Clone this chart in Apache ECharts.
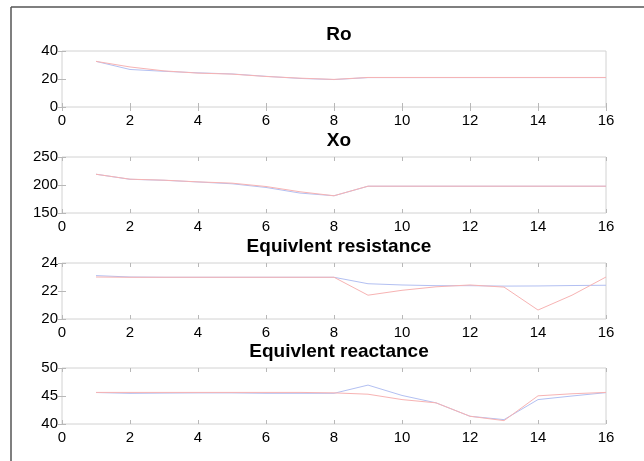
<!DOCTYPE html>
<html>
<head>
<meta charset="utf-8">
<script src="https://cdn.jsdelivr.net/npm/echarts@6/dist/echarts.min.js"></script>
<style>
  html, body { margin: 0; padding: 0; background: #fff; }
  #chart { width: 644px; height: 461px; }
</style>
</head>
<body>
<div id="chart"></div>
<script>
// sample index (x axis)
var steps = [1, 2, 3, 4, 5, 6, 7, 8, 9, 10, 11, 12, 13, 14, 15, 16]

// Ro
var roBlue = [32.6, 26.8, 25.5, 24.4, 23.6, 21.9, 20.4, 19.6, 21.0, 21.0, 21.0, 21.0, 21.0, 21.0, 21.0, 21.0]
var roRed  = [32.6, 28.6, 25.8, 24.2, 23.5, 21.8, 20.6, 19.7, 21.1, 21.1, 21.1, 21.1, 21.1, 21.1, 21.1, 21.1]

// Xo
var xoBlue = [219.2, 210.2, 208.4, 205.4, 202.2, 195.6, 185.6, 180.8, 197.8, 197.8, 197.8, 197.8, 197.8, 197.8, 197.8, 197.8]
var xoRed  = [219.2, 210.4, 208.6, 205.6, 203.3, 197.3, 187.9, 180.8, 197.9, 197.9, 197.9, 197.9, 197.9, 197.9, 197.9, 197.9]

// Equivlent resistance
var resBlue = [23.10, 23.0, 22.98, 22.98, 22.98, 22.98, 22.98, 22.98, 22.52, 22.43, 22.38, 22.38, 22.35, 22.36, 22.39, 22.41]
var resRed  = [23.0, 22.98, 22.98, 22.98, 22.98, 22.98, 22.98, 22.98, 21.70, 22.05, 22.30, 22.43, 22.28, 20.64, 21.70, 23.0]

// Equivlent reactance
var reaBlue = [45.62, 45.47, 45.52, 45.55, 45.55, 45.48, 45.48, 45.48, 46.95, 45.1, 43.78, 41.38, 40.78, 44.36, 45.0, 45.6]
var reaRed  = [45.64, 45.64, 45.64, 45.64, 45.64, 45.64, 45.64, 45.56, 45.32, 44.36, 43.78, 41.38, 40.6, 45.03, 45.4, 45.64]

var titles = ['Ro', 'Xo', 'Equivlent resistance', 'Equivlent reactance']
var yRanges = [[0, 40, 20], [150, 250, 50], [20, 24, 2], [40, 50, 5]]
var xRange = [0, 16, 2]
var blueSets = [roBlue, xoBlue, resBlue, reaBlue]
var redSets = [roRed, xoRed, resRed, reaRed]

var FONT = '"Liberation Sans", Arial, Helvetica, sans-serif'
var gridTops = [51, 157, 263, 368]
var gridH = 56
var boxColor = '#d2d2d2'

function pairs(vals) {
  return steps.map(function (s, i) { return [s, vals[i]] })
}

var grids = [], xAxes = [], yAxes = [], series = [], titleOpts = []

gridTops.forEach(function (top, i) {
  grids.push({
    left: 62, width: 544, top: top, height: gridH,
    show: true, borderColor: boxColor, borderWidth: 1, backgroundColor: '#fff'
  })
  titleOpts.push({
    text: titles[i], left: 334, top: top - 31, textAlign: 'center',
    textStyle: { fontFamily: FONT, fontSize: 19, fontWeight: 'bold', color: '#000' }
  })
  // bottom x axis with labels, top one only for ticks
  ;['bottom', 'top'].forEach(function (pos) {
    xAxes.push({
      gridIndex: i, type: 'value', position: pos,
      min: xRange[0], max: xRange[1], interval: xRange[2],
      axisLine: { show: false },
      axisTick: { show: true, inside: true, length: 4, lineStyle: { color: '#b8b8b8' } },
      axisLabel: {
        show: pos === 'bottom', color: '#000', fontFamily: FONT, fontSize: 15, margin: 6
      },
      splitLine: { show: false }
    })
  })
  var yr = yRanges[i]
  ;['left', 'right'].forEach(function (pos) {
    yAxes.push({
      gridIndex: i, type: 'value', position: pos,
      min: yr[0], max: yr[1], interval: yr[2],
      axisLine: { show: false },
      axisTick: { show: true, inside: true, length: 4, lineStyle: { color: '#b8b8b8' } },
      axisLabel: {
        show: pos === 'left', color: '#000', fontFamily: FONT, fontSize: 15, margin: 4
      },
      splitLine: { show: false }
    })
  })
  series.push({
    type: 'line', xAxisIndex: i * 2, yAxisIndex: i * 2,
    data: pairs(blueSets[i]), symbol: 'none', silent: true, animation: false,
    lineStyle: { color: '#b3c0f2', width: 1 }
  })
  series.push({
    type: 'line', xAxisIndex: i * 2, yAxisIndex: i * 2,
    data: pairs(redSets[i]), symbol: 'none', silent: true, animation: false,
    lineStyle: { color: '#f7b3b3', width: 1 }
  })
})

var chart = echarts.init(document.getElementById('chart'), null, { renderer: 'canvas' })
chart.setOption({
  backgroundColor: '#fff',
  animation: false,
  title: titleOpts,
  grid: grids,
  xAxis: xAxes,
  yAxis: yAxes,
  series: series,
  // figure frame (only left and top edges are in view)
  graphic: [
    { type: 'line', shape: { x1: 11, y1: 7, x2: 644, y2: 7 }, style: { stroke: '#555', lineWidth: 1.5 } },
    { type: 'line', shape: { x1: 11, y1: 7, x2: 11, y2: 461 }, style: { stroke: '#555', lineWidth: 1.5 } }
  ]
})
</script>
</body>
</html>
